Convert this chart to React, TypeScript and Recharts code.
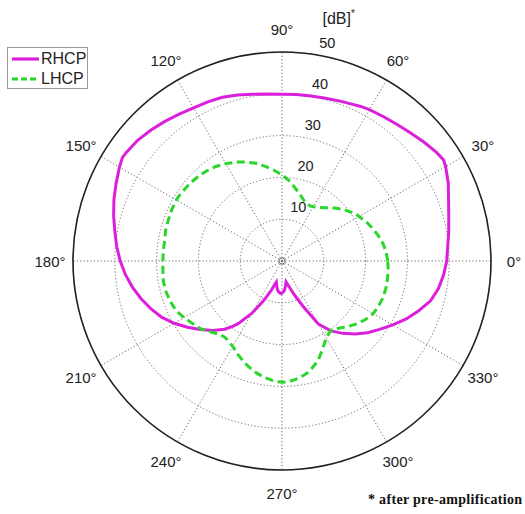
import React from 'react';
import { RadarChart, Radar, PolarGrid, PolarAngleAxis, PolarRadiusAxis, Legend } from 'recharts';

// Azimuth (degrees, counter-clockwise from 0° at the right)
const ANGLES = [
  0, 5, 10, 15, 20, 25, 30, 32, 35, 40, 45, 50, 55, 60, 63, 65, 70, 75, 80, 85,
  90, 95, 100, 105, 110, 115, 120, 125, 130, 135, 140, 145, 147, 150, 155, 160, 165, 170, 175,
  180, 185, 190, 195, 200, 205, 210, 215, 220, 225, 230, 233, 235, 240, 245, 250, 253, 255, 258,
  261, 265, 268, 271, 275, 278, 281, 283, 286, 290, 295, 300, 305, 310, 315, 320, 325, 330,
  335, 340, 345, 350, 355,
];

// RHCP gain [dB]
const RHCP = [
  39.4, 39.8, 40.5, 41.3, 42.4, 43.9, 45.2, 45.6, 45.2, 44.3, 43.4, 42.7, 42.2, 41.8, 41.5, 41.2, 40.7, 40.3, 40.1, 40.0,
  39.9, 40.1, 40.5, 41.1, 41.7, 42.0, 42.3, 42.9, 43.6, 44.3, 45.0, 45.4, 45.5, 44.9, 43.8, 42.8, 41.7, 40.6, 39.7,
  38.7, 37.6, 36.3, 34.9, 33.4, 31.8, 29.8, 27.6, 25.5, 23.5, 21.3, 19.6, 18.3, 14.5, 10.5, 7.4, 5.8, 5.2, 6.0,
  7.0, 7.6, 7.8, 7.6, 7.0, 6.0, 5.1, 5.6, 6.6, 8.6, 12.0, 17.4, 20.4, 22.6, 24.7, 26.7, 28.5, 30.6,
  32.8, 34.8, 36.8, 38.0, 38.8,
];

// LHCP gain [dB]
const LHCP = [
  25.3, 25.0, 24.5, 23.8, 23.0, 22.2, 21.3, 21.0, 20.3, 19.2, 17.9, 16.6, 15.6, 15.0, 14.8, 14.9, 15.4, 16.5, 17.8, 19.3,
  20.6, 21.8, 23.0, 24.2, 25.2, 26.1, 26.9, 27.6, 28.1, 28.5, 28.8, 29.0, 29.1, 29.2, 29.1, 28.9, 28.8, 28.5, 28.5,
  28.5, 28.6, 28.8, 28.7, 28.4, 28.0, 27.1, 26.1, 25.3, 24.0, 23.0, 22.8, 22.9, 23.6, 24.8, 26.0, 26.6, 27.1, 27.6,
  28.1, 28.6, 28.9, 29.0, 28.7, 28.3, 27.8, 27.4, 26.5, 25.3, 23.1, 21.2, 20.3, 21.0, 22.2, 23.4, 24.4, 25.2,
  25.5, 25.7, 25.7, 25.6, 25.5,
];

const ANGLE_TICKS = [0, 30, 60, 90, 120, 150, 180, 210, 240, 270, 300, 330];
const RADIUS_TICKS = [0, 10, 20, 30, 40, 50];
const SERIES = ['RHCP', 'LHCP'];
const UNIT_LABEL = '[dB]';
const FOOTNOTE = '* after pre-amplification';

const data = ANGLES.map((angle, i) => ({ angle, [SERIES[0]]: RHCP[i], [SERIES[1]]: LHCP[i] }));

const W = 525;
const H = 514;
const CX = 282;
const CY = 261;
const OUTER = 209;
const LABEL_R = 232;
const SANS = '"Liberation Sans", Arial, Helvetica, sans-serif';

const COLORS: Record<string, string> = { RHCP: '#dc1fdc', LHCP: '#2ad62a' };
const DASH: Record<string, string | undefined> = { RHCP: undefined, LHCP: '8 4.5' };

const AngleTick = (props: any) => {
  const { x, y, payload } = props;
  const v = payload?.value;
  if (v == null || v >= 360) return null;
  const dx = x - CX;
  const dy = y - CY;
  const len = Math.hypot(dx, dy) || 1;
  const tx = CX + (dx / len) * LABEL_R;
  const ty = CY + (dy / len) * LABEL_R;
  return (
    <text x={tx} y={ty} textAnchor="middle" dominantBaseline="central" fontFamily={SANS} fontSize={15} fill="#222">
      {v}°
    </text>
  );
};

const RadiusTick = (props: any) => {
  const { x, y, payload } = props;
  if (!payload || payload.value === 0) return null;
  return (
    <text x={x + 9} y={y - 12.5} textAnchor="middle" dominantBaseline="central" fontFamily={SANS} fontSize={14.5} fill="#222">
      {payload.value}
    </text>
  );
};

const LegendBox = (props: any) => {
  const items = [...(props.payload || [])].sort(
    (a: any, b: any) => SERIES.indexOf(a.value) - SERIES.indexOf(b.value)
  );
  return (
    <div
      style={{
        width: 79,
        height: 39,
        border: '1.5px solid #9a9a9a',
        background: '#fff',
        fontFamily: SANS,
        fontSize: 16,
        color: '#222',
        paddingTop: 1,
        boxSizing: 'content-box',
      }}
    >
      {items.map((it: any) => (
        <div key={it.value} style={{ display: 'flex', alignItems: 'center', height: 20, lineHeight: '20px' }}>
          <svg width={33} height={20} style={{ display: 'block' }}>
            <line
              x1={4}
              y1={10}
              x2={31}
              y2={10}
              stroke={COLORS[it.value] || it.color}
              strokeWidth={3.2}
              strokeDasharray={DASH[it.value] ? '6 3' : undefined}
            />
          </svg>
          <span>{it.value}</span>
        </div>
      ))}
    </div>
  );
};

export default function App() {
  return (
    <div style={{ position: 'absolute', left: 0, top: 0, width: W, height: H, background: '#fff' }}>
      <RadarChart
        width={W}
        height={H}
        cx={CX}
        cy={CY}
        innerRadius={0}
        outerRadius={OUTER}
        startAngle={0}
        endAngle={360}
        data={data}
        margin={{ top: 0, right: 0, bottom: 0, left: 0 }}
      >
        <PolarGrid
          gridType="circle"
          polarAngles={ANGLE_TICKS}
          stroke="#6a6a6a"
          strokeWidth={1}
          strokeDasharray="1.2 2.2"
        />
        <PolarGrid gridType="circle" polarAngles={[]} radialLines={false} polarRadius={[3]} stroke="#777" strokeWidth={1} />
        <PolarGrid gridType="circle" polarAngles={[]} radialLines={false} polarRadius={[OUTER]} stroke="#222" strokeWidth={1.6} />
        <PolarAngleAxis
          dataKey="angle"
          type="number"
          domain={[0, 360]}
          ticks={ANGLE_TICKS}
          tickCount={13}
          axisLine={false}
          tickLine={false}
          tick={<AngleTick />}
        />
        <PolarRadiusAxis
          angle={80}
          type="number"
          domain={[0, 50]}
          ticks={RADIUS_TICKS}
          tickCount={6}
          axisLine={false}
          tickLine={false}
          tick={<RadiusTick />}
        />
        <Radar
          name={SERIES[0]}
          dataKey={SERIES[0]}
          stroke={COLORS.RHCP}
          strokeWidth={3}
          fill="none"
          fillOpacity={0}
          dot={false}
          isAnimationActive={false}
        />
        <Radar
          name={SERIES[1]}
          dataKey={SERIES[1]}
          stroke={COLORS.LHCP}
          strokeWidth={3}
          strokeDasharray={DASH.LHCP}
          fill="none"
          fillOpacity={0}
          dot={false}
          isAnimationActive={false}
        />
        <Legend
          layout="vertical"
          align="center"
          verticalAlign="middle"
          wrapperStyle={{ left: 7, top: 47, width: 'auto', height: 'auto' }}
          content={<LegendBox />}
        />
      </RadarChart>
      <svg width={W} height={H} style={{ position: 'absolute', left: 0, top: 0, pointerEvents: 'none' }}>
        <text x={322.5} y={23.5} fontFamily={SANS} fontSize={16} fill="#222">
          {UNIT_LABEL}
        </text>
        <text x={351} y={17} fontFamily={SANS} fontSize={10} fill="#222">
          *
        </text>
        <text
          x={368}
          y={504}
          fontFamily='"Liberation Serif", "Times New Roman", serif'
          fontWeight="bold"
          fontSize={14}
          fill="#111"
          textLength={154}
          lengthAdjust="spacing"
        >
          {FOOTNOTE}
        </text>
      </svg>
    </div>
  );
}
